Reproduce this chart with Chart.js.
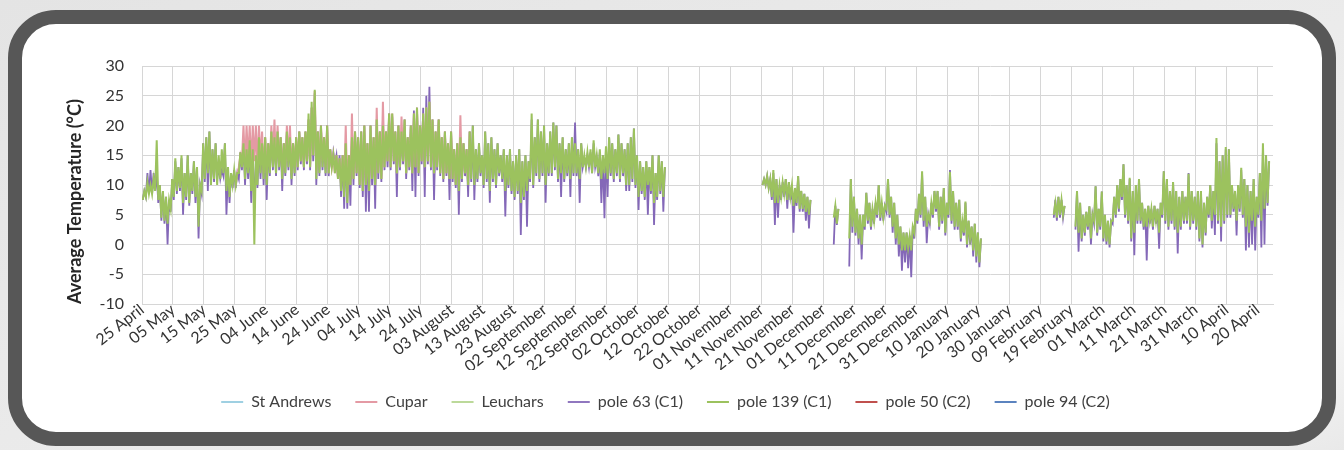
<!DOCTYPE html>
<html>
<head>
<meta charset="utf-8">
<title>Average Temperature</title>
<script src="https://cdn.jsdelivr.net/npm/chart.js@4.4.1/dist/chart.umd.min.js"></script>
<style>
  html, body { margin: 0; padding: 0; }
  body {
    width: 1344px; height: 450px; overflow: hidden; position: relative;
    background: linear-gradient(160deg, #e4e4e4 0%, #ededed 70%, #f6f6f6 86%, #e9e9e9 100%);
  }
  #frame {
    position: absolute; left: 8px; top: 10px;
    width: 1300px; height: 408px;
    border: 14px solid #575757; border-radius: 48px;
    background: #ffffff;
  }
  #chartBox { position: absolute; left: 0; top: 0; width: 1344px; height: 450px; }
</style>
</head>
<body>
<div id="frame"></div>
<div id="chartBox"><canvas id="tempChart"></canvas></div>
<script>
// x axis: days counted from 25 April, one tick every ten days
const tickDays = [0, 10, 20, 30, 40, 50, 60, 70, 80, 90, 100, 110, 120, 130, 140, 150, 160, 170,
  180, 190, 200, 210, 220, 230, 240, 250, 260, 270, 280, 290, 300, 310, 320, 330, 340, 350, 360];
const tickLabels = ['25 April', '05 May', '15 May', '25 May', '04 June', '14 June', '24 June',
  '04 July', '14 July', '24 July', '03 August', '13 August', '23 August', '02 September',
  '12 September', '22 September', '02 October', '12 October', '22 October', '01 November',
  '11 November', '21 November', '01 December', '11 December', '21 December', '31 December',
  '10 January', '20 January', '30 January', '09 February', '19 February', '01 March',
  '11 March', '21 March', '31 March', '10 April', '20 April'];

const seriesNames = ['St Andrews', 'Cupar', 'Leuchars', 'pole 63 (C1)', 'pole 139 (C1)', 'pole 50 (C2)', 'pole 94 (C2)'];

// daily low / high readings (deg C), first entry = day 0 (25 April), null = no data
const pole139Lo = [
  7.5, 8, 8.5, 8.5, 9, 7.5, 4.5, 4, 3.5, 6,
  8, 9, 9.5, 7, 8, 7, 9, 8, 3, 9,
  11, 12, 10, 11, 10, 11, 12, 9, 8, 10,
  10, 12, 13, 11, 12, 9, 0, 10, 12, 11,
  10, 12, 13, 12, 13, 11, 12, 13, 11, 12,
  13, 14, 13, 14, 13, 15, 11, 12, 13, 12,
  12, 13, 12, 11, 9, 8, 7, 10, 11, 12,
  10, 9, 10, 9, 11, 10, 12, 11, 13, 14,
  13, 14, 12, 13, 14, 12, 13, 12, 13, 12,
  14, 13, 14, 13, 12, 13, 12, 11, 12, 11,
  11, 10, 9, 11, 12, 10, 11, 10, 11, 12,
  10, 11, 9, 11, 10, 12, 11, 9, 10, 9,
  8, 9, 7, 8, 9, 11, 10, 12, 11, 12,
  10, 12, 12, 13, 11, 12, 11, 12, 11, 12,
  12, 11, 13, 13, 13, 12, 13, 12, 11, 12,
  11, 12, 11, 12, 11, 12, 10, 10, 11, 10,
  8, 9, 8, 10, 9, 7, 8, 9, 8, null,
  null, null, null, null, null, null, null, null, null, null,
  null, null, null, null, null, null, null, null, null, null,
  null, null, null, null, null, null, null, null, null, null,
  10, 10, 9.5, 8, 7, 7, 8, 8.5, 7.5, 8,
  6.5, 7, 6, 6, 5.5, 5, null, null, null, null,
  null, null, null, 4.5, 3.5, null, null, null, 1, 3,
  2, 1, 0, 3, 4, 3, 4, 5, 4.5, 4.5,
  6, 5, 3, 1, 0, -1, -1, -0.5, -1, 2,
  4, 5, 4, 3, 4, 5, 6, 3, 4, 2,
  5, 4, 3, 3, 1, 2, 0, 1, -1, -2,
  -3, null, null, null, null, null, null, null, null, null,
  null, null, null, null, null, null, null, null, null, null,
  null, null, null, null, 5, 4.5, 5, 5, null, null,
  null, 3, 2, 1, 2, 3, 1, 4, 2, 3,
  1, 0.5, 0, 4, 5, 6, 8, 5, 4, 1,
  2, 4, 4, 3, 3, 4, 3, 4, 2, 5,
  4, 3, 4, 3, 2, 3, 4, 4, 3, 4,
  3, 1, 0, 2, 5, 4, 5, 4, 3, 4,
  5, 5, 6, 4, 6, 5, 3, 2, 4, 3,
  5, 4, 6, 7, null, null
];
const pole139Hi = [
  9, 10.5, 10, 11, 17.5, 10, 9, 8, 7.5, 11,
  14.5, 13, 15, 12, 15, 12, 14, 13, 10, 17,
  18, 19, 16, 17, 15, 16, 17, 13, 12, 12.5,
  12, 15.5, 17, 16, 17.5, 16, 15, 18, 17, 18,
  17, 19, 18, 19, 18, 17, 19, 18, 17, 18,
  19, 18, 19, 22, 24, 26, 19, 20, 18, 20,
  16, 15, 15, 14.5, 15, 17, 15, 18, 19, 18,
  19, 20, 17, 20, 18, 21, 19, 20, 19, 22,
  22, 19, 20, 19, 21, 18, 20, 22, 23, 20,
  22, 23, 24, 21, 19, 21, 18, 19, 17, 19,
  16, 17, 18, 17, 16, 19, 20, 16, 17, 15,
  19, 17, 18, 16, 17, 15, 16, 15, 16, 14,
  15, 16, 14, 15, 14, 22, 18, 21, 19, 20,
  17, 19, 20.5, 20, 17, 18, 16, 17, 18, 17,
  16, 17, 15, 15.5, 16, 17.5, 15, 16, 15, 16.5,
  18, 17, 16, 18.5, 17, 16, 17, 18, 19.5, 15,
  14, 13, 14, 13, 15, 12, 15, 14, 13, null,
  null, null, null, null, null, null, null, null, null, null,
  null, null, null, null, null, null, null, null, null, null,
  null, null, null, null, null, null, null, null, null, null,
  11, 11.5, 11, 12.5, 11, 10, 10.5, 11, 10.5, 10,
  9.5, 11.5, 9, 8.5, 8, 7.5, null, null, null, null,
  null, null, null, 6.5, 6, null, null, null, 11, 8,
  6, 5, 5, 8.7, 7, 6, 7, 10, 7, 6.5,
  11, 8, 7, 5, 3, 2, 2, 1.5, 3, 6,
  8.5, 12.3, 8, 5, 7, 9, 9, 8, 9.5, 7,
  12.2, 9, 7, 7.5, 4, 7.2, 4, 3, 3.5, 2,
  1, null, null, null, null, null, null, null, null, null,
  null, null, null, null, null, null, null, null, null, null,
  null, null, null, null, 7, 8, 7.5, 6.5, null, null,
  null, 9, 7, 5, 5.5, 6.4, 5, 9.8, 6, 8.9,
  5, 4, 4, 8, 10, 11, 13.5, 10, 11.2, 9,
  10, 11, 7, 6, 6.5, 6, 6.5, 6, 7, 12.3,
  11, 9, 10.5, 9, 8, 9, 8, 11.9, 9, 8,
  9, 9, 7, 8, 10, 9, 17.9, 14, 15, 16.4,
  16, 10, 9, 10, 12.9, 11, 10, 9, 11, 8,
  12, 17, 15, 14, null, null
];
const pole63Lo = [
  7.5, 8, 8.5, 8.5, 9, 7, 4, 3.5, 0, 5.5,
  7.5, 8.5, 9, 5, 7.5, 6.5, 8.5, 7, 1, 8.5,
  10.5, 9, 10, 10.5, 11, 11, 11.5, 5, 7, 9.5,
  9.5, 11, 12.5, 10, 11, 7, 6, 9.5, 11, 10,
  7.5, 11.5, 12.5, 11.5, 12.5, 9, 11.5, 12.5, 10, 11.5,
  12.5, 13.5, 12.5, 13.5, 12.5, 14, 10, 11.5, 12.5, 11.5,
  11.5, 13, 13.5, 11, 8, 6, 6, 6.5, 10, 11.5,
  9.5, 8, 5.5, 5.5, 10, 6, 11, 10.5, 12.5, 13,
  12.5, 13.5, 8, 12.5, 13.5, 11, 12.5, 9, 8, 11.5,
  13.5, 8, 13.5, 12.5, 7.5, 12.5, 11.5, 10.5, 11.5, 7.5,
  10.5, 9.5, 5, 10.5, 11.5, 8, 10.5, 7.5, 10.5, 11.5,
  9.5, 10.5, 7, 10.5, 9.5, 11.5, 10.5, 4.7, 9.5, 8.5,
  7.5, 8.5, 1.6, 7.5, 3, 10.5, 9.5, 11.5, 10.5, 11.5,
  7, 11.5, 11.5, 12.5, 10.5, 8, 10.5, 11.5, 8, 11.5,
  11.5, 7, 13, 13, 13, 12, 13, 11.5, 7, 4.4,
  8, 11.5, 10.5, 11.5, 10.5, 11.5, 9, 9, 10.5, 9.5,
  5.8, 8.5, 7.5, 5, 8.5, 3.3, 7.5, 8.5, 5.5, null,
  null, null, null, null, null, null, null, null, null, null,
  null, null, null, null, null, null, null, null, null, null,
  null, null, null, null, null, null, null, null, null, null,
  10, 10, 9.5, 7.5, 3.3, 4.5, 7.5, 8, 6, 7.5,
  2, 6.5, 5.5, 5.5, 4, 2.7, null, null, null, null,
  null, null, null, 0, 3.3, null, null, null, -3.7, 2,
  1.5, 0, -2.5, 2.5, 3.5, 2.5, 3.5, 4.5, 4, 4,
  5.5, 4.5, 2, 0, -2, -4.4, -3, -4, -5.5, 1,
  3.5, 4.5, 3, 0.2, 3.5, 4.5, 5.5, 2.5, 3.5, 1.5,
  4.5, 3.5, 2.5, 2.5, 0.5, 1.5, -0.5, 0, -2, -3,
  -3.8, null, null, null, null, null, null, null, null, null,
  null, null, null, null, null, null, null, null, null, null,
  null, null, null, null, 4.5, 4, 4.5, 4.5, null, null,
  null, 2.5, -1.2, 0.5, 1.5, 2.5, 0, 3.5, 1.5, 2.5,
  0.5, 0, -0.5, 3.5, 4.5, 5.5, 7.5, 4.5, 3.5, 0.5,
  -1.8, 3.5, 3.5, 2.5, -2.7, 3.5, 2.5, 3.5, -0.7, 4.5,
  3.5, 2.5, 3.5, 2.5, -1.5, 2.5, 3.5, 3.5, 2.5, 3.5,
  2.5, 0.5, -0.5, 1.5, 4.5, 2.7, 1.6, 3.5, 0.5, 3.5,
  4.5, 4.5, 5.5, 1.5, 5.5, 4.5, -1, -0.5, 0, -1,
  4.5, -0.5, 0, 6.5, null, null
];
const pole63Hi = [
  9, 12, 12.5, 12, 12, 10, 9, 8, 7.5, 11,
  14, 13, 14.5, 12, 15, 12, 14, 13, 10, 17,
  18, 19, 16, 17, 13, 12.5, 17, 12, 12, 12.5,
  12, 15.5, 17, 16, 17, 15, 14, 17, 17, 18,
  17, 19, 18, 19, 18, 17, 19, 18, 17, 18,
  19, 18, 19, 21, 23, 25.5, 19, 20, 18, 20,
  16, 15.5, 15, 15, 15, 17, 15, 18, 19, 18,
  19, 20, 17, 20, 18, 21, 19, 21, 19, 22,
  21.5, 19, 20, 19, 21, 18, 20, 22.5, 23, 20,
  23, 25, 26.5, 21, 19, 21, 18, 19, 17, 19,
  16, 17, 18, 17, 16, 19, 20, 16, 17, 15,
  19, 17, 18, 16, 17, 15, 16, 15, 16, 14,
  15, 16, 14, 15, 14, 21, 18, 21, 19, 20,
  17, 19, 20.5, 20, 17, 18, 16, 17, 18, 20.5,
  16, 17, 14.5, 15, 15.5, 17, 14.5, 15.5, 15, 16,
  18, 17, 16, 18.5, 17, 16, 17, 18, 19.5, 15,
  14, 13, 14, 13, 15, 12, 15, 14, 13, null,
  null, null, null, null, null, null, null, null, null, null,
  null, null, null, null, null, null, null, null, null, null,
  null, null, null, null, null, null, null, null, null, null,
  11, 11.5, 11, 12, 11, 10, 10.5, 11, 10.5, 10,
  9.5, 11.5, 9, 8.5, 8, 7.5, null, null, null, null,
  null, null, null, 6.5, 6, null, null, null, 11, 8,
  6, 5, 5, 8.7, 7, 6, 7, 10, 7, 6.5,
  11, 8, 7, 5, 3, 2, 2, 1.5, 3, 6,
  8.5, 12, 8, 5, 7, 9, 9, 8, 9.5, 7,
  12.5, 9, 7, 7.5, 4, 7, 4, 3, 3.5, 2,
  1, null, null, null, null, null, null, null, null, null,
  null, null, null, null, null, null, null, null, null, null,
  null, null, null, null, 7.5, 8, 7.5, 6.5, null, null,
  null, 9, 7, 5, 5.5, 6.4, 5, 9.8, 6, 8.9,
  5, 4, 4, 8, 10, 11, 13.5, 10, 11, 9,
  10, 11, 7, 6, 6.5, 6, 6.5, 6, 7, 12.3,
  11, 9, 10.5, 9, 8, 9, 8, 12, 9, 8,
  9, 9, 7, 8, 10, 9, 17, 14, 15, 16,
  16, 10, 9, 10, 12.5, 11, 10, 9, 11, 8,
  12, 16, 15, 14, null, null
];
// Cupar only shows above the others in early summer (days 30 to 105)
const cuparFirstDay = 30;
const cuparLo = [
  10, 13, 14, 13, 14, 13, 14, 13, 14, 12,
  12, 13, 14, 13, 14, 12, 13, 14, 12, 13,
  13, 14, 13, 14, 13, 15, 12, 13, 14, 13,
  12, 13, 12, 11, 10, 10, 9, 10, 11, 12,
  10, 9, 10, 9, 11, 10, 12, 11, 13, 14,
  13, 14, 12, 13, 14, 12, 13, 12, 13, 12,
  14, 13, 14, 13, 12, 13, 12, 11, 12, 11,
  11, 10, 10, 11, 12, 10
];
const cuparHi = [
  12, 15, 20, 20, 20, 20, 20, 20, 19, 18,
  17, 20, 21, 20, 18, 17, 20, 20, 17, 18,
  19, 18, 19, 21, 23, 25.8, 19, 20, 18, 20,
  16, 15, 15, 14.5, 15, 20, 15, 22, 19, 18,
  19, 20, 17, 20, 18, 23, 19, 24, 19, 22,
  22, 19, 20, 21.5, 21, 18, 20, 22, 23, 20,
  22, 23, 24, 21, 19, 21, 18, 19, 17, 19,
  16, 17, 21.7, 17, 16, 19
];

// turn daily low/high pairs into a line going low -> high -> low ...
const buildZigzag = (firstDay, lows, highs) => {
    const points = [];
    lows.forEach((lo, i) => {
        const day = firstDay + i;
        const hi = highs[i];
        if (lo === null || hi === null) {
            points.push({ x: day + 0.5, y: null });
            return;
        }
        points.push({ x: day + 0.25, y: lo });
        points.push({ x: day + 0.75, y: hi });
    });
    return points;
};

const seriesColors = ['#9fd0e2', '#e49aa4', '#bcd99a', '#8468b8', '#9cc25e', '#c0504d', '#5b83bf'];
const seriesWidths = [2, 2, 2, 1.8, 2, 2, 2];
const seriesData = [
    [],
    buildZigzag(cuparFirstDay, cuparLo, cuparHi),
    [],
    buildZigzag(0, pole63Lo, pole63Hi),
    buildZigzag(0, pole139Lo, pole139Hi),
    [],
    []
];
// higher order is drawn first (underneath)
const drawOrder = [0, 1.5, 0, 2, 1, 0, 0];

const ctx = document.getElementById('tempChart').getContext('2d');
window.tempChart = new Chart(ctx, {
    type: 'line',
    data: {
        datasets: seriesNames.map((name, i) => ({
            label: name,
            data: seriesData[i],
            borderColor: seriesColors[i],
            backgroundColor: seriesColors[i],
            borderWidth: seriesWidths[i],
            pointRadius: 0,
            pointStyle: 'line',
            tension: 0,
            order: drawOrder[i]
        }))
    },
    options: {
        responsive: true,
        maintainAspectRatio: false,
        animation: false,
        layout: { padding: { left: 58, top: 66, right: 71, bottom: 30 } },
        plugins: {
            legend: {
                position: 'bottom',
                labels: {
                    usePointStyle: true,
                    pointStyleWidth: 22,
                    padding: 24,
                    color: '#404040',
                    font: { family: 'Lato', size: 16 },
                    sort: (a, b) => a.datasetIndex - b.datasetIndex
                }
            },
            tooltip: { enabled: false }
        },
        scales: {
            x: {
                type: 'linear',
                min: 0,
                max: 365,
                afterBuildTicks: (scale) => { scale.ticks = tickDays.map(v => ({ value: v })); },
                afterFit: (scale) => { scale.height = 66; },
                ticks: {
                    autoSkip: false,
                    maxRotation: 38,
                    minRotation: 38,
                    padding: -4,
                    color: '#333333',
                    font: { family: 'Lato', size: 16 },
                    callback: (value) => tickLabels[tickDays.indexOf(value)]
                },
                grid: { color: '#d6d6d6', drawTicks: false },
                border: { color: '#d6d6d6' }
            },
            y: {
                min: -10,
                max: 30,
                afterFit: (scale) => { scale.width = 84; },
                ticks: {
                    stepSize: 5,
                    padding: 18,
                    color: '#333333',
                    font: { family: 'Lato', size: 16 },
                    callback: (value) => String(value)
                },
                grid: { color: '#d6d6d6', drawTicks: false },
                border: { color: '#d6d6d6' },
                title: {
                    display: true,
                    align: 'start',
                    text: 'Average Temperature (°C)',
                    color: '#262626',
                    padding: { top: 6, bottom: 0 },
                    font: { family: 'Lato', size: 18, weight: 'bold' }
                }
            }
        }
    }
});
</script>
</body>
</html>
